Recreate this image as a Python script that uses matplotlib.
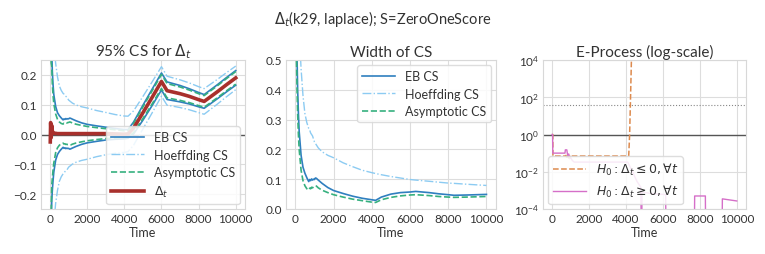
"""Confidence sequences, their widths and e-processes for Delta_t."""

import matplotlib

matplotlib.use("Agg")
import matplotlib.pyplot as plt
import numpy as np

# ---- data ------------------------------------------------------------------
time = [10, 30, 60, 90, 120, 160, 200, 300, 400, 500, 600, 700, 750, 800, 850,
        900, 950, 1000, 1050, 1100, 1200, 1400, 1700, 2000, 2500, 3000, 3500,
        4000, 4200, 4500, 5000, 5500, 6000, 6300, 7000, 7500, 8000, 8300, 9000,
        9500, 10000]
delta = [-0.025, 0.04, -0.01, 0.03, 0.012, 0.006, 0.004, 0.004, 0.003, 0.003,
         0.003, 0.003, 0.003, 0.003, 0.003, 0.003, 0.003, 0.003, 0.003, 0.003,
         0.003, 0.003, 0.003, 0.003, 0.003, 0.003, 0.002, 0.001, 0.002, 0.022,
         0.073, 0.125, 0.178, 0.147, 0.137, 0.128, 0.117, 0.111, 0.143, 0.167,
         0.19]
width_eb = [1.2, 0.8, 0.6, 0.5, 0.4, 0.32, 0.26, 0.18, 0.14, 0.12, 0.105,
            0.092, 0.099, 0.095, 0.101, 0.097, 0.1, 0.099, 0.104, 0.103, 0.097,
            0.086, 0.072, 0.062, 0.052, 0.043, 0.036, 0.031, 0.029, 0.04, 0.05,
            0.055, 0.057, 0.059, 0.055, 0.051, 0.048, 0.046, 0.047, 0.048,
            0.049]
width_hoeffding = [3.0, 1.8, 1.2, 0.95, 0.8, 0.68, 0.6, 0.47, 0.38, 0.32, 0.29,
                   0.27, 0.265, 0.255, 0.25, 0.245, 0.235, 0.225, 0.22, 0.215,
                   0.205, 0.192, 0.18, 0.172, 0.155, 0.142, 0.13, 0.122, 0.119,
                   0.115, 0.109, 0.104, 0.099, 0.097, 0.093, 0.09, 0.087, 0.086,
                   0.083, 0.081, 0.079]
width_asymp = [1.0, 0.7, 0.5, 0.4, 0.32, 0.25, 0.2, 0.13, 0.095, 0.078, 0.068,
               0.064, 0.07, 0.068, 0.073, 0.071, 0.074, 0.075, 0.078, 0.077,
               0.071, 0.063, 0.055, 0.048, 0.04, 0.033, 0.028, 0.023, 0.022,
               0.031, 0.039, 0.044, 0.047, 0.048, 0.045, 0.042, 0.04, 0.039,
               0.04, 0.041, 0.042]

eproc_time_le = [0, 40, 50, 700, 750, 800, 850, 900, 950, 1000, 1050, 1200,
                 4150, 4200, 4250, 4320]
eproc_le = [1.0, 1.0, 0.07, 0.07, 0.075, 0.06, 0.08, 0.055, 0.07, 0.06, 0.07,
            0.07, 0.07, 1.0, 100.0, 1e5]
eproc_time_ge = [0, 30, 40, 700, 720, 800, 850, 900, 950, 1000, 1100, 1200,
                 4100, 4400, 4600, 4800, 4850, 4870, 5500, 6150, 6170, 7700,
                 7720, 8300, 8320, 9200, 9220, 10000]
eproc_ge = [1.0, 1.0, 0.1, 0.1, 0.15, 0.15, 0.07, 0.09, 0.05, 0.06, 0.04, 0.033,
            0.033, 0.008, 0.003, 0.0015, 1e-6, 8e-4, 6.5e-4, 6e-4, 1e-6, 1e-6,
            5e-4, 5e-4, 1e-6, 1e-6, 3.5e-4, 2.7e-4]
alpha = 0.025

EB_COLOR = "#2f7fbf"
HOEF_COLOR = "#8ccbf2"
ASYM_COLOR = "#36b07f"
DELTA_COLOR = "#a8302c"
LE_COLOR = "#dd8a4e"
GE_COLOR = "#d56fc8"

plt.rcParams.update({
    "font.family": ["Lato", "DejaVu Sans"],
    "mathtext.fontset": "dejavusans",
    "font.size": 8.5,
    "axes.edgecolor": "#d8d8d8",
    "axes.grid": True,
    "grid.color": "#dddddd",
    "grid.linewidth": 0.8,
    "xtick.color": "#333333",
    "ytick.color": "#333333",
    "xtick.major.size": 0,
    "ytick.major.size": 0,
    "xtick.major.pad": 3,
    "ytick.major.pad": 3,
    "axes.labelcolor": "#333333",
    "text.color": "#333333",
    "legend.edgecolor": "#d8d8d8",
})

LEGEND_KW = dict(fontsize=9, framealpha=0.85, handlelength=2.6,
                 borderaxespad=0.4, labelspacing=0.45)


def style_axis(ax, title):
    ax.set_title(title, fontsize=11, pad=3)
    ax.set_xlabel("Time", fontsize=9, labelpad=1)
    ax.set_xticks([0, 2000, 4000, 6000, 8000, 10000])
    ax.tick_params(labelsize=8.5)
    ax.set_axisbelow(True)


def main():
    t = np.array(time)
    center = np.array(delta)
    widths = {
        "EB CS": (np.array(width_eb), EB_COLOR, "-", 1.2),
        "Hoeffding CS": (np.array(width_hoeffding), HOEF_COLOR, "-.", 1.0),
        "Asymptotic CS": (np.array(width_asymp), ASYM_COLOR, "--", 1.2),
    }

    fig = plt.figure(figsize=(7.65, 2.55), dpi=100)
    ax1 = fig.add_axes([41 / 765, 45 / 255, 204 / 765, 149 / 255])
    ax2 = fig.add_axes([286 / 765, 45 / 255, 210 / 765, 149 / 255])
    ax3 = fig.add_axes([543 / 765, 45 / 255, 203 / 765, 149 / 255])

    # panel 1: confidence sequences
    ax1.axhline(0, color="#555555", lw=1.0, zorder=1)
    for label, (w, color, ls, lw) in widths.items():
        ax1.plot(t, center + w / 2, color=color, ls=ls, lw=lw, label=label)
        ax1.plot(t, center - w / 2, color=color, ls=ls, lw=lw)
    ax1.plot(t, center, color=DELTA_COLOR, lw=2.6, label=r"$\Delta_t$")
    ax1.set_ylim(-0.25, 0.25)
    ax1.set_yticks([-0.2, -0.1, 0.0, 0.1, 0.2])
    ax1.legend(loc="lower right", **LEGEND_KW)
    style_axis(ax1, r"95% CS for $\Delta_t$")

    # panel 2: widths
    for label, (w, color, ls, lw) in widths.items():
        ax2.plot(t, w, color=color, ls=ls, lw=lw, label=label)
    ax2.set_ylim(0, 0.5)
    ax2.legend(loc="upper right", **LEGEND_KW)
    style_axis(ax2, "Width of CS")

    # panel 3: e-processes
    ax3.set_yscale("log")
    ax3.axhline(1, color="#555555", lw=1.0, zorder=1)
    ax3.axhline(1 / alpha, color="#888888", lw=0.8, ls=":", zorder=1)
    ax3.plot(eproc_time_le, eproc_le, color=LE_COLOR, ls="--", lw=1.1,
             label=r"$H_0: \Delta_t \leq 0, \forall t$")
    ax3.plot(eproc_time_ge, eproc_ge, color=GE_COLOR, lw=1.0,
             label=r"$H_0: \Delta_t \geq 0, \forall t$")
    ax3.set_ylim(1e-4, 1e4)
    ax3.set_yticks([1e-4, 1e-2, 1e0, 1e2, 1e4])
    ax3.minorticks_off()
    ax3.set_xlim(ax1.get_xlim())
    ax3.legend(loc="lower left", **LEGEND_KW)
    style_axis(ax3, "E-Process (log-scale)")

    fig.suptitle(r"$\Delta_t$(k29, laplace); S=ZeroOneScore", fontsize=10.5,
                 y=0.965)
    fig.savefig("out.png", dpi=100)
    plt.close(fig)


if __name__ == "__main__":
    main()
